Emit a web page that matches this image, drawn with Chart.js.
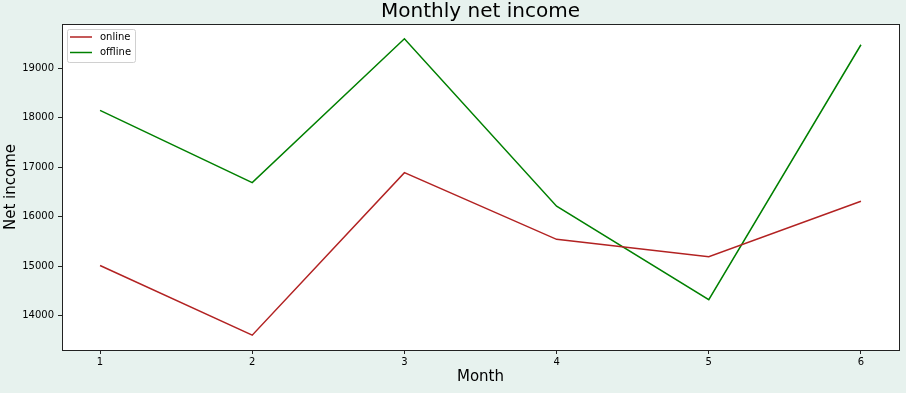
<!DOCTYPE html>
<html>
<head>
<meta charset="utf-8">
<script src="https://cdn.jsdelivr.net/npm/chart.js@4/dist/chart.umd.min.js"></script>
<style>
  body { margin: 0; background: #ffffff; }
  #wrap { width: 906px; height: 393px; background: #e7f2ee; }
</style>
</head>
<body>
<div id="wrap"><canvas id="graphique" width="906" height="393"></canvas></div>
<script>
// Donnees
var months = [1, 2, 3, 4, 5, 6];
var online = [15010, 13600, 16890, 15540, 15190, 16310];
var offline = [18150, 16690, 19600, 16210, 14320, 19480];
var xTicks = [1, 2, 3, 4, 5, 6];
var yTicks = [14000, 15000, 16000, 17000, 18000, 19000];

// marges a la matplotlib (5%)
var allY = online.concat(offline);
var yMin = Math.min.apply(null, allY);
var yMax = Math.max.apply(null, allY);
var yPad = (yMax - yMin) * 0.05;
var xPad = (months[months.length - 1] - months[0]) * 0.05;

function toPoints(vals) {
  var pts = [];
  for (var i = 0; i < months.length; i++) pts.push({ x: months[i], y: vals[i] });
  return pts;
}

// fond blanc de la zone de trace
var fondPlugin = {
  id: "fond",
  beforeDraw: function(chart) {
    var c = chart.ctx, a = chart.chartArea;
    c.save();
    c.fillStyle = "#ffffff";
    c.fillRect(a.left, a.top, a.right - a.left, a.bottom - a.top);
    c.restore();
  }
};

// cadre noir autour de la zone de trace + legende en haut a gauche
var cadrePlugin = {
  id: "cadre",
  afterDatasetsDraw: function(chart) {
    var c = chart.ctx, a = chart.chartArea;
    c.save();
    c.strokeStyle = "#222";
    c.lineWidth = 1;
    c.strokeRect(Math.round(a.left) + 0.5, Math.round(a.top) + 0.5, Math.round(a.right - a.left), Math.round(a.bottom - a.top));

    var x0 = a.left + 5, y0 = a.top + 5;
    c.fillStyle = "rgba(255,255,255,0.9)";
    c.strokeStyle = "#d0d0d0";
    c.beginPath();
    c.roundRect(x0 + 0.5, y0 + 0.5, 68, 33, 2);
    c.fill();
    c.stroke();
    c.font = "10px 'DejaVu Sans'";
    c.textBaseline = "middle";
    chart.data.datasets.forEach(function(ds, i) {
      var yy = y0 + 8 + i * 15.5;
      c.strokeStyle = ds.borderColor;
      c.lineWidth = 1.5;
      c.beginPath();
      c.moveTo(x0 + 3, yy);
      c.lineTo(x0 + 25, yy);
      c.stroke();
      c.fillStyle = "#000";
      c.fillText(ds.label, x0 + 33, yy);
    });
    c.restore();
  }
};

var ctx = document.getElementById("graphique").getContext("2d");
var chart = new Chart(ctx, {
  type: "line",
  data: {
    datasets: [{
      label: "online",
      data: toPoints(online),
      borderColor: "#b22222",
      borderWidth: 1.5,
      pointRadius: 0,
      tension: 0
    }, {
      label: "offline",
      data: toPoints(offline),
      borderColor: "#008000",
      borderWidth: 1.5,
      pointRadius: 0,
      tension: 0
    }]
  },
  options: {
    responsive: false,
    animation: false,
    layout: { padding: { left: 0, right: 7, top: 0, bottom: 0 } },
    plugins: {
      legend: { display: false },
      tooltip: { enabled: false },
      title: {
        display: true,
        fullSize: false,
        text: "Monthly net income",
        color: "#000",
        font: { family: "DejaVu Sans", size: 20, weight: "normal", lineHeight: 1.2 },
        padding: 0
      }
    },
    scales: {
      x: {
        type: "linear",
        min: months[0] - xPad,
        max: months[months.length - 1] + xPad,
        afterBuildTicks: function(axis) {
          axis.ticks = xTicks.map(function(v) { return { value: v }; });
        },
        afterFit: function(axis) { axis.height = 43; },
        grid: { drawOnChartArea: false, drawTicks: true, tickLength: 4, tickColor: "#222" },
        border: { display: true, color: "#222" },
        ticks: {
          color: "#000", padding: 2, font: { family: "DejaVu Sans", size: 10 },
          callback: function(v) { return String(v); }
        },
        title: {
          display: true,
          text: "Month",
          color: "#000",
          font: { family: "DejaVu Sans", size: 15 },
          padding: { top: 2, bottom: 7 }
        }
      },
      y: {
        type: "linear",
        min: yMin - yPad,
        max: yMax + yPad,
        afterBuildTicks: function(axis) {
          axis.ticks = yTicks.map(function(v) { return { value: v }; });
        },
        afterFit: function(axis) { axis.width = 62; },
        grid: { drawOnChartArea: false, drawTicks: true, tickLength: 4, tickColor: "#222" },
        border: { display: true, color: "#222" },
        ticks: {
          color: "#000", padding: 4, font: { family: "DejaVu Sans", size: 10 },
          callback: function(v) { return String(v); }
        },
        title: {
          display: true,
          text: "Net income",
          color: "#000",
          font: { family: "DejaVu Sans", size: 15 },
          padding: { top: 2, bottom: 2 }
        }
      }
    }
  },
  plugins: [fondPlugin, cadrePlugin]
});
</script>
</body>
</html>
